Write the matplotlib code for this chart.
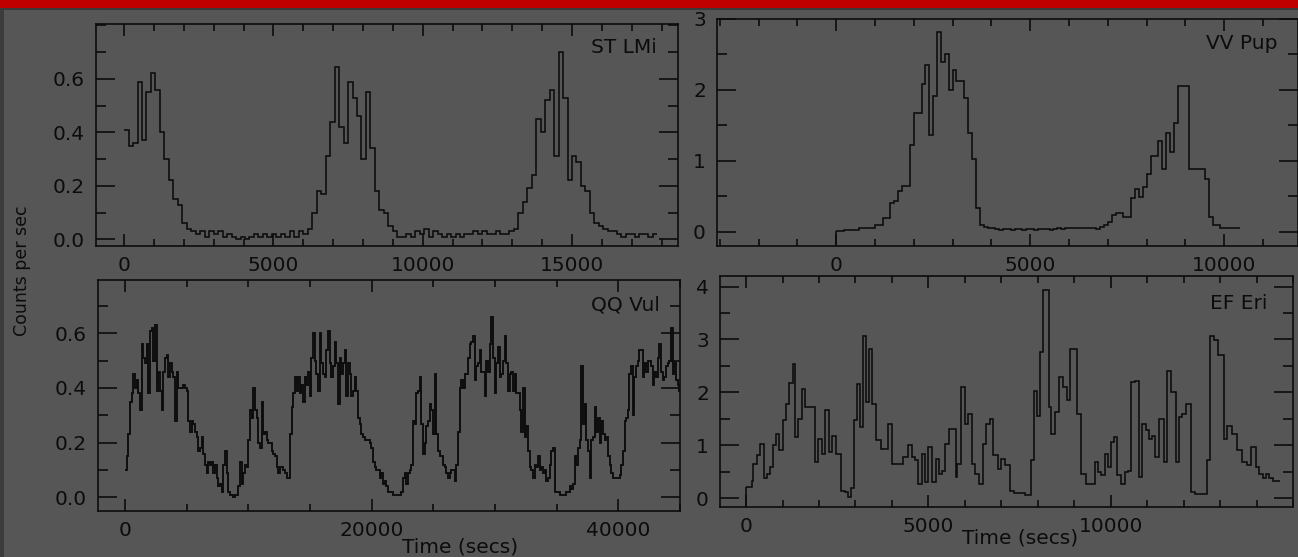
import numpy as np
import matplotlib
matplotlib.use("Agg")
import matplotlib.pyplot as plt
from matplotlib.ticker import FixedLocator, MultipleLocator, FormatStrFormatter
from matplotlib.patches import Rectangle

# ---------------- data ----------------
# ST LMi: uniform 150 s bins starting at t = 0
stlmi_t0, stlmi_bin = 0.0, 150.0
stlmi_counts = [
    0.41, 0.35, 0.36, 0.59, 0.37, 0.55, 0.62, 0.56, 0.40, 0.30, 0.22, 0.15, 0.13, 0.06, 0.04, 0.03,
    0.02, 0.03, 0.01, 0.03, 0.02, 0.03, 0.01, 0.02, 0.01, 0.00, 0.01, 0.00, 0.01, 0.02, 0.01, 0.02,
    0.01, 0.02, 0.01, 0.02, 0.01, 0.03, 0.01, 0.03, 0.02,
    0.04,
    0.10, 0.18, 0.17, 0.31, 0.44, 0.645, 0.42, 0.36, 0.59, 0.53, 0.46, 0.30, 0.55, 0.34, 0.18, 0.11,
    0.10, 0.05, 0.03,
    0.01, 0.01, 0.02, 0.01, 0.03, 0.02, 0.04, 0.01, 0.03, 0.02, 0.01, 0.02, 0.01, 0.02, 0.01, 0.02,
    0.02, 0.03, 0.02, 0.03, 0.02, 0.02, 0.03, 0.02, 0.02, 0.03,
    0.04,
    0.10, 0.14, 0.19, 0.24, 0.45, 0.40, 0.52, 0.56, 0.31, 0.70, 0.53, 0.22, 0.31, 0.29, 0.20, 0.18,
    0.10, 0.06, 0.05, 0.04,
    0.03, 0.03, 0.02, 0.01, 0.02, 0.02, 0.01, 0.02, 0.02, 0.01, 0.02,
]

# VV Pup: uniform 100 s bins starting at t = 0
vvpup_t0, vvpup_bin = 0.0, 100.0
vvpup_counts = [
    0.01, 0.01, 0.02, 0.02, 0.02, 0.03, 0.055, 0.05, 0.06, 0.05, 0.09, 0.09, 0.19, 0.19, 0.40, 0.44,
    0.58, 0.65, 0.65, 1.22, 1.67, 1.67, 2.09, 2.35, 1.37, 1.91, 2.81, 2.40, 2.51, 2.00, 2.28, 2.12,
    2.12, 1.88, 1.40, 1.02, 0.33, 0.09, 0.07, 0.05, 0.05,
    0.04, 0.03, 0.04, 0.04, 0.03, 0.04, 0.04, 0.03, 0.04, 0.04, 0.03, 0.04, 0.04, 0.04, 0.03, 0.04,
    0.05, 0.04, 0.05,
    0.05, 0.06, 0.05, 0.06, 0.05, 0.06, 0.05, 0.04, 0.07, 0.10, 0.14, 0.23, 0.26, 0.26, 0.21, 0.21,
    0.47, 0.60, 0.49, 0.63, 0.81, 1.07, 1.07, 1.28, 0.88, 1.40, 1.12, 1.53, 2.06, 2.06, 2.06, 0.88,
    0.88, 0.88, 0.88, 0.74, 0.21, 0.09, 0.09, 0.055, 0.05, 0.05, 0.05, 0.05,
]

# QQ Vul: uniform 135 s bins starting at t = 0
qqvul_t0, qqvul_bin = 0.0, 135.0
qqvul_counts = [
    0.10, 0.15, 0.23, 0.35, 0.38, 0.45, 0.40, 0.43, 0.38, 0.32, 0.56, 0.51, 0.49, 0.56, 0.38, 0.61,
    0.62, 0.50, 0.63, 0.39, 0.46, 0.39, 0.32, 0.46, 0.51, 0.52, 0.44, 0.49, 0.46, 0.44, 0.28, 0.46,
    0.40, 0.40, 0.40, 0.41, 0.40, 0.39, 0.28, 0.24, 0.28, 0.27, 0.24, 0.22, 0.17, 0.18, 0.22, 0.16,
    0.12, 0.09, 0.13, 0.12, 0.13, 0.09, 0.12, 0.07, 0.04, 0.05, 0.02, 0.12, 0.17, 0.09, 0.02, 0.01,
    0.01, 0.00, 0.01, 0.01, 0.04, 0.13, 0.05, 0.09, 0.12, 0.11, 0.21, 0.32, 0.29, 0.40, 0.32, 0.29,
    0.20, 0.18, 0.35, 0.23, 0.24, 0.21, 0.20, 0.20, 0.17, 0.16, 0.15, 0.11, 0.09, 0.11, 0.11, 0.10,
    0.09, 0.07, 0.07, 0.23, 0.33, 0.38, 0.44, 0.39, 0.44, 0.38, 0.41, 0.35, 0.44, 0.41, 0.46, 0.37,
    0.51, 0.60, 0.50, 0.45, 0.39, 0.60, 0.49, 0.45, 0.44, 0.54, 0.61, 0.49, 0.44, 0.48, 0.57, 0.49,
    0.34, 0.51, 0.45, 0.49, 0.54, 0.37, 0.49, 0.45, 0.37, 0.39, 0.44, 0.39, 0.29, 0.27, 0.23, 0.22,
    0.21, 0.21, 0.21, 0.20, 0.18, 0.13, 0.11, 0.10, 0.10, 0.07, 0.09, 0.05, 0.06, 0.04, 0.02, 0.02,
    0.02,
    0.01, 0.01, 0.01, 0.01, 0.01, 0.02, 0.07, 0.09, 0.05, 0.09, 0.10, 0.12, 0.28, 0.27, 0.38, 0.39,
    0.44, 0.27, 0.16, 0.20, 0.26, 0.28, 0.34, 0.32, 0.23, 0.45, 0.23, 0.17, 0.15, 0.15, 0.12, 0.11,
    0.09, 0.07, 0.09, 0.10, 0.10, 0.06, 0.12, 0.24, 0.40, 0.43, 0.40, 0.45, 0.45, 0.51, 0.56, 0.57,
    0.59, 0.43, 0.48, 0.49, 0.54, 0.46, 0.46, 0.37, 0.50, 0.46, 0.56, 0.66, 0.51, 0.38, 0.49, 0.55,
    0.44, 0.45, 0.50, 0.59, 0.49, 0.39, 0.45, 0.46, 0.39, 0.45, 0.38, 0.38, 0.32, 0.24, 0.40, 0.22,
    0.26, 0.17, 0.11, 0.10, 0.07, 0.12, 0.11, 0.15, 0.10, 0.11, 0.09, 0.10, 0.06, 0.07, 0.12, 0.17,
    0.18, 0.02, 0.02, 0.02, 0.01, 0.01, 0.01, 0.01, 0.02, 0.02, 0.04, 0.03, 0.05, 0.15, 0.12, 0.18,
    0.21, 0.48, 0.27, 0.34, 0.21, 0.17, 0.07, 0.21, 0.22, 0.33, 0.24, 0.29, 0.20, 0.28, 0.23, 0.21,
    0.22, 0.15, 0.12, 0.09, 0.07, 0.07, 0.07, 0.07, 0.08, 0.12, 0.17, 0.28, 0.29, 0.32, 0.45, 0.48,
    0.30, 0.44, 0.48, 0.50, 0.54, 0.54, 0.44, 0.49, 0.46, 0.50, 0.50, 0.48, 0.41, 0.46, 0.44, 0.51,
    0.56, 0.46, 0.43, 0.44, 0.48, 0.49, 0.50, 0.62, 0.45, 0.49, 0.43, 0.41, 0.39,
]

# EF Eri: bin edges (s) where the level changes, and the level in each interval
eferi_edges = [
    0, 150, 200, 300, 380, 490, 570, 660, 750, 830, 910, 1000, 1090, 1170, 1280, 1340, 1420, 1545,
    1625, 1885, 1965, 2080, 2160, 2270, 2365, 2475, 2590, 2705, 2795, 2875, 2955, 3045, 3125, 3215,
    3295, 3385, 3465, 3555, 3690, 3895, 4010, 4315, 4430, 4545, 4635, 4725, 4830, 4920, 5000, 5090,
    5205, 5295, 5375, 5455, 5565, 5750, 5795, 5885, 6000, 6090, 6205, 6280, 6395, 6510, 6590, 6700,
    6770, 6905, 7000, 7110, 7250, 7360, 7645, 7815, 7905, 7985, 8065, 8155, 8295, 8360, 8475, 8590,
    8700, 8815, 8895, 9065, 9180, 9315, 9575, 9655, 9745, 9840, 9915, 10000, 10090, 10180, 10290,
    10405, 10485, 10565, 10680, 10770, 10860, 10975, 11055, 11135, 11225, 11335, 11450, 11540, 11655,
    11790, 11885, 11960, 12075, 12190, 12305, 12645, 12725, 12835, 12930, 13100, 13190, 13325, 13475,
    13610, 13725, 13835, 13975, 14065, 14175, 14270, 14345, 14460, 14630,
]
eferi_counts = [
    0.21, 0.33, 0.65, 0.81, 1.03, 0.37, 0.46, 0.59, 1.00, 1.22, 0.90, 1.47, 1.78, 2.17, 2.54, 1.15,
    1.50, 2.07, 1.72, 0.68, 1.12, 0.84, 1.66, 0.87, 1.18, 0.84, 0.14, 0.11, 0.02, 0.18, 1.47, 2.16,
    1.34, 3.07, 1.81, 2.82, 1.78, 1.09, 0.93, 1.40, 0.65, 0.77, 1.00, 0.77, 0.71, 0.27, 0.84, 0.30,
    0.96, 0.30, 0.74, 0.46, 0.52, 1.03, 1.31, 0.40, 0.65, 2.10, 1.40, 1.59, 0.65, 0.46, 0.27, 1.03,
    1.40, 1.50, 0.81, 0.55, 0.74, 0.62, 0.14, 0.09, 0.05, 0.71, 2.03, 1.56, 2.76, 3.94, 1.72, 1.22,
    1.63, 2.29, 2.10, 1.85, 2.82, 1.59, 0.46, 0.27, 0.68, 0.49, 0.43, 0.84, 0.59, 1.06, 1.15, 0.43,
    0.27, 0.49, 0.52, 2.19, 2.22, 0.40, 1.40, 1.28, 1.12, 1.18, 0.77, 1.50, 0.68, 2.41, 2.00, 0.68,
    1.53, 1.59, 1.78, 0.11, 0.08, 0.71, 3.07, 2.98, 2.70, 1.12, 1.37, 1.22, 0.90, 0.68, 0.62, 0.96,
    0.59, 0.46, 0.37, 0.46, 0.37, 0.33,
]

panel_names = ["ST LMi", "VV Pup", "QQ Vul", "EF Eri"]
x_labels_major = [[0, 5000, 10000, 15000], [0, 5000, 10000], [0, 20000, 40000], [0, 5000, 10000]]
y_labels_major = [[0.0, 0.2, 0.4, 0.6], [0, 1, 2, 3], [0.0, 0.2, 0.4, 0.6], [0, 1, 2, 3, 4]]
ylabel_text = "Counts per sec"
xlabel_text = "Time (secs)"

# ---------------- style ----------------
BG = "#565656"
INK = "#0c0c0c"
W, H = 1298, 557
plt.rcParams["font.family"] = ["DejaVu Sans"]
FS = 14.5

fig = plt.figure(figsize=(W / 100, H / 100), dpi=100, facecolor=BG)

# frame decorations of the screenshot
fig.patches.append(Rectangle((0, 1 - 7.5 / H), 1, 7.5 / H, transform=fig.transFigure,
                             facecolor="#c00000", edgecolor="none", zorder=0))
fig.patches.append(Rectangle((0, 1 - 10 / H), 1, 2.5 / H, transform=fig.transFigure,
                             facecolor="#3a3a3a", edgecolor="none", zorder=0))
fig.patches.append(Rectangle((0, 0), 3.5 / W, 1 - 10 / H, transform=fig.transFigure,
                             facecolor="#3c3c3c", edgecolor="none", zorder=0))


def px_axes(l, t, r, b):
    return fig.add_axes([l / W, 1 - b / H, (r - l) / W, (b - t) / H])


axs = [
    px_axes(96, 24, 678, 246),
    px_axes(717, 19, 1298, 246),
    px_axes(98, 280, 680, 511),
    px_axes(720, 276, 1293, 507),
]
xlims = [(-940, 18550), (-3070, 11900), (-2190, 45000), (-715, 15000)]
ylims = [(-0.025, 0.805), (-0.2, 3.0), (-0.05, 0.795), (-0.17, 4.2)]
x_minor = [1000, 1000, 5000, 1000]
y_minor = [0.1, 0.5, 0.1, 0.5]
y_fmt = ["%.1f", "%d", "%.1f", "%d"]
line_w = [1.15, 1.15, 1.35, 1.15]

series = [
    (stlmi_t0 + stlmi_bin * np.arange(len(stlmi_counts) + 1), np.array(stlmi_counts), False),
    (vvpup_t0 + vvpup_bin * np.arange(len(vvpup_counts) + 1), np.array(vvpup_counts), True),
    (qqvul_t0 + qqvul_bin * np.arange(len(qqvul_counts) + 1), np.array(qqvul_counts), False),
    (np.array(eferi_edges, float), np.array(eferi_counts), True),
]

label_pos = [(0.964, 0.892), (0.964, 0.894), (0.966, 0.892), (0.955, 0.883)]

for i, ax in enumerate(axs):
    ax.set_facecolor("none")
    edges, vals, drop = series[i]
    ax.stairs(vals, edges, color=INK, lw=line_w[i], baseline=None)
    if drop:
        ax.vlines(edges[0], ylims[i][0], vals[0], color=INK, lw=line_w[i])
    ax.set_xlim(*xlims[i])
    ax.set_ylim(*ylims[i])
    ax.xaxis.set_major_locator(FixedLocator(x_labels_major[i]))
    ax.xaxis.set_minor_locator(MultipleLocator(x_minor[i]))
    ax.yaxis.set_major_locator(FixedLocator(y_labels_major[i]))
    ax.yaxis.set_minor_locator(MultipleLocator(y_minor[i]))
    ax.yaxis.set_major_formatter(FormatStrFormatter(y_fmt[i]))
    ax.tick_params(axis="both", which="both", direction="in", top=True, right=True,
                   color=INK, width=1.2, labelcolor=INK, labelsize=FS)
    ax.tick_params(axis="y", which="major", length=14, pad=8)
    ax.tick_params(axis="y", which="minor", length=7)
    ax.tick_params(axis="x", which="major", length=8.5, pad=7)
    ax.tick_params(axis="x", which="minor", length=5)
    for sp in ax.spines.values():
        sp.set_color(INK)
        sp.set_linewidth(1.2)
    ax.text(label_pos[i][0], label_pos[i][1], panel_names[i], transform=ax.transAxes,
            ha="right", va="center", fontsize=FS, color=INK)

fig.text(22 / W, 1 - 271 / H, ylabel_text, rotation=90, ha="center", va="center",
         fontsize=12.5, color=INK)
fig.text(460 / W, 1 - 547 / H, xlabel_text, ha="center", va="center", fontsize=FS, color=INK)
fig.text(1020 / W, 1 - 538 / H, xlabel_text, ha="center", va="center", fontsize=FS, color=INK)

fig.savefig("out.png", dpi=100, facecolor=BG)
